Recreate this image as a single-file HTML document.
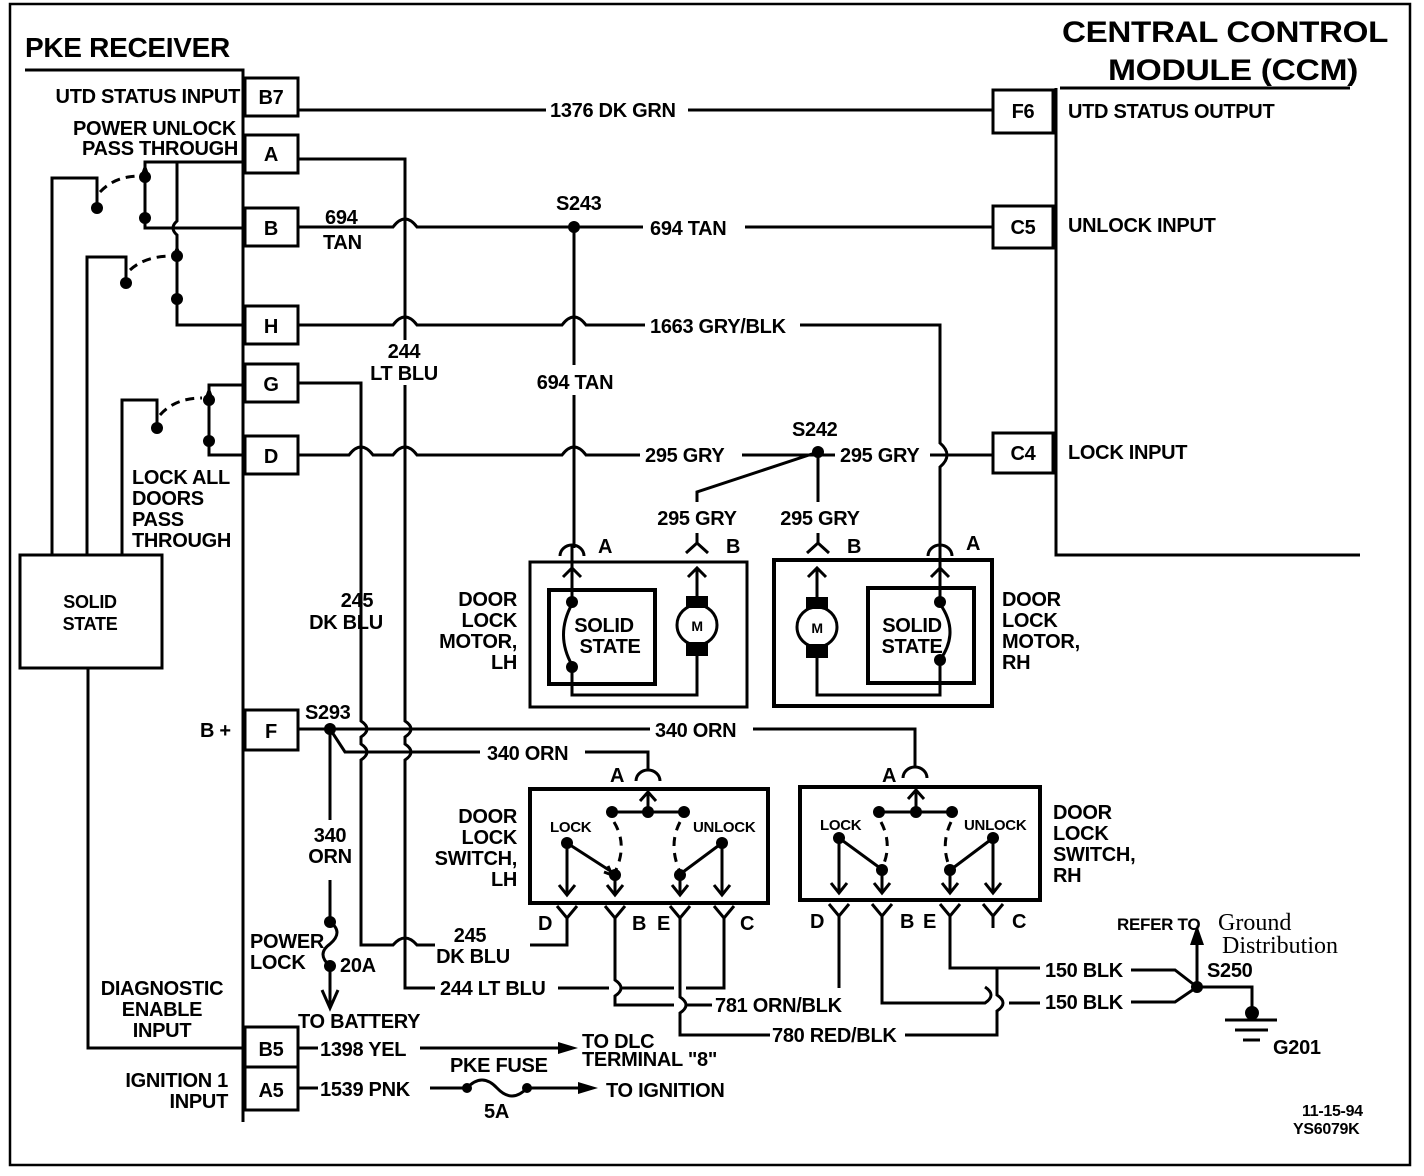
<!DOCTYPE html>
<html><head><meta charset="utf-8"><style>
html,body{margin:0;padding:0;background:#fff;}
svg{display:block}
text{font-family:"Liberation Sans",sans-serif;font-weight:bold;fill:#000;letter-spacing:-0.3px}
</style></head><body>
<svg width="1424" height="1176" viewBox="0 0 1424 1176" xmlns="http://www.w3.org/2000/svg">
<g fill="none" stroke="#000" stroke-width="3">
<path d="M10 4 H1410 V1165 H10 Z" stroke-width="2.5"/>
<path d="M25 70 H243 V1122" />
<path d="M1060 88 H1350" />
<path d="M1056 88 V555 H1360" />
<rect x="245" y="78" width="53" height="38"/>
<rect x="245" y="135" width="53" height="38"/>
<rect x="245" y="208" width="53" height="38"/>
<rect x="245" y="306" width="53" height="38"/>
<rect x="245" y="364" width="53" height="38"/>
<rect x="245" y="436" width="53" height="38"/>
<rect x="245" y="710" width="53" height="40"/>
<rect x="245" y="1027" width="53" height="40"/>
<rect x="245" y="1067" width="53" height="43"/>
<rect x="993" y="90" width="60" height="43"/>
<rect x="993" y="206" width="60" height="42"/>
<rect x="993" y="433" width="60" height="40"/>
<path d="M243 162 H145 V228 H243"/>
<path d="M177 162 V221 q-8 7 0 14 V325 H243"/>
<path d="M52 555 V178 H97 V205"/>
<path d="M87 555 V257 H126 V280"/>
<path d="M122 555 V400 H157 V425"/>
<path d="M243 385 H209 V455 H243"/>
<path d="M100 192 Q115 176 140 176" stroke-dasharray="9 6"/>
<path d="M130 270 Q145 256 172 256" stroke-dasharray="9 6"/>
<path d="M160 415 Q175 398 202 398" stroke-dasharray="9 6"/>
<rect x="20" y="555" width="142" height="113"/>
<path d="M88 668 V1048 H245"/>
<path d="M298 110 H546 M688 110 H993"/>
<path d="M298 159 H405 V340 M405 385 V721 q12 8 0 16 V744 q12 8 0 16 V988 H435 M558 988 H609 M621 988 H674 M686 988 H724 V918"/>
<path d="M298 227 H393 q12 -16 24 0 H643 M745 227 H993"/>
<path d="M574 227 V365 M574 395 V548"/>
<path d="M298 325 H393 q12 -16 24 0 H562 q12 -16 24 0 H645 M800 325 H940 V443 q14 12 0 24 V545"/>
<path d="M298 383 H361 V721 q12 8 0 16 V744 q12 8 0 16 V945 H393 q12 -14 24 0 H435 M530 945 H567 V918"/>
<path d="M298 455 H349 q12 -16 24 0 H393 q12 -16 24 0 H562 q12 -16 24 0 H640 M742 455 H835 M930 455 H993"/>
<path d="M818 452 L697 492 V502 M818 452 V502"/>
<path d="M560 556 a12 11 0 0 1 24 0 M572 545 V590"/>
<path d="M686 553 L697 543 L708 553 M697 533 V543"/>
<path d="M807 553 L818 543 L829 553 M818 533 V543"/>
<path d="M928 556 a12 11 0 0 1 24 0 M940 545 V590"/>
<rect x="530" y="562" width="217" height="145"/>
<rect x="549" y="590" width="106" height="94" stroke-width="4"/>
<path d="M572 568 V602 M563 577 L572 568 L581 577"/>
<path d="M572 667 V695 H697 V655"/>
<path d="M572 604 Q555 635 572 665"/>
<path d="M697 568 V598 M688 577 L697 568 L706 577"/>
<circle cx="697" cy="625" r="20" fill="#fff"/>
<rect x="774" y="560" width="218" height="146" stroke-width="4"/>
<rect x="868" y="588" width="106" height="95" stroke-width="4"/>
<path d="M940 568 V602 M931 577 L940 568 L949 577"/>
<path d="M940 660 V695 H817 V655"/>
<path d="M940 604 Q960 632 940 660"/>
<path d="M817 568 V600 M808 577 L817 568 L826 577"/>
<circle cx="817" cy="627" r="20" fill="#fff"/>
<path d="M298 729 H650 M753 729 H915 V768"/>
<path d="M330 729 L345 752 H480 M585 752 H648 V770"/>
<path d="M636 781 a12 11 0 0 1 24 0 M903 778 a12 11 0 0 1 24 0"/>
<path d="M330 729 V820 M330 880 V920"/>
<path d="M330 922 q14 10 0 22 q-14 10 0 22"/>
<path d="M330 966 V1005 M322 990 L330 1008 L338 990"/>
<rect x="530" y="789" width="238" height="114" stroke-width="4"/>
<path d="M648 812 V792 M640 801 L648 792 L656 801 M612 812 H684"/>
<path d="M567 843 V895 M559 885 L567 895 L575 885 M567 843 L612 872 M604 872 L612 875 L608 866"/>
<path d="M615 875 V895 M607 885 L615 895 L623 885 M680 875 V895 M672 885 L680 895 L688 885"/>
<path d="M722 843 V895 M714 885 L722 895 L730 885 M722 843 L683 872"/>
<path d="M614 822 Q628 845 615 872 M680 822 Q668 845 680 872" stroke-dasharray="9 7"/>
<path d="M557 906 L567 918 L577 906 M605 906 L615 918 L625 906 M670 906 L680 918 L690 906 M714 906 L724 918 L734 906"/>
<path d="M615 918 V980 q12 8 0 16 V1005 H674 M686 1005 H712"/>
<path d="M680 918 V997 q12 8 0 16 V1035 H770 M905 1035 H997 V1011 q12 -8 0 -16 V968"/>
<rect x="800" y="787" width="240" height="113" stroke-width="4"/>
<path d="M916 812 V790 M908 799 L916 790 L924 799 M879 812 H952"/>
<path d="M839 838 V893 M831 883 L839 893 L847 883 M839 838 L880 868"/>
<path d="M882 870 V893 M874 883 L882 893 L890 883 M950 870 V893 M942 883 L950 893 L958 883"/>
<path d="M993 838 V893 M985 883 L993 893 L1001 883 M993 838 L953 868"/>
<path d="M881 822 Q893 845 882 868 M951 822 Q940 845 950 868" stroke-dasharray="9 7"/>
<path d="M829 904 L839 916 L849 904 M872 904 L882 916 L892 904 M940 904 L950 916 L960 904 M983 904 L993 916 L1003 904"/>
<path d="M839 916 V988 M882 916 V1003 H985 q12 -8 0 -16 M1009 1003 H1040 M950 916 V968 H1040 M993 916 V928"/>
<path d="M1131 970 H1175 L1197 987 M1131 1002 H1175 L1197 987 M1197 987 V928 M1197 987 H1252 V1012"/>
<path d="M1225 1020 H1277 M1235 1030 H1268 M1243 1040 H1260"/>
<path d="M298 1048 H318 M420 1048 H560 M298 1088 H318 M430 1088 H467 M527 1088 H580"/>
<path d="M467 1088 q15 -16 30 0 q15 16 30 0"/>
</g>
<g fill="#000">
<circle cx="574" cy="227" r="6"/><circle cx="818" cy="452" r="6"/><circle cx="330" cy="729" r="6"/>
<circle cx="97" cy="208" r="6"/><circle cx="145" cy="177" r="6"/><circle cx="145" cy="218" r="6"/>
<circle cx="126" cy="283" r="6"/><circle cx="177" cy="256" r="6"/><circle cx="177" cy="299" r="6"/>
<circle cx="157" cy="428" r="6"/><circle cx="209" cy="400" r="6"/><circle cx="209" cy="441" r="6"/>
<circle cx="572" cy="602" r="6"/><circle cx="572" cy="667" r="6"/><circle cx="940" cy="602" r="6"/><circle cx="940" cy="660" r="6"/>
<rect x="686" y="596" width="22" height="12"/><rect x="686" y="642" width="22" height="14"/>
<rect x="806" y="597" width="22" height="12"/><rect x="806" y="644" width="22" height="14"/>
<circle cx="330" cy="922" r="6"/><circle cx="330" cy="966" r="6"/><circle cx="467" cy="1088" r="5"/><circle cx="527" cy="1088" r="5"/>
<circle cx="612" cy="812" r="6"/><circle cx="648" cy="812" r="6"/><circle cx="684" cy="812" r="6"/>
<circle cx="567" cy="843" r="6"/><circle cx="722" cy="843" r="6"/><circle cx="615" cy="875" r="6"/><circle cx="680" cy="875" r="6"/>
<circle cx="879" cy="812" r="6"/><circle cx="916" cy="812" r="6"/><circle cx="952" cy="812" r="6"/>
<circle cx="839" cy="838" r="6"/><circle cx="993" cy="838" r="6"/><circle cx="882" cy="870" r="6"/><circle cx="950" cy="870" r="6"/>
<circle cx="1197" cy="987" r="6"/><circle cx="1252" cy="1013" r="7"/>
<path d="M1197 925 L1190 945 L1204 945Z"/>
<path d="M558 1042 L578 1048 L558 1054Z"/><path d="M578 1082 L598 1088 L578 1094Z"/>
<path d="M140 177 l5 -14 l5 14Z M172 258 l5 -14 l5 14Z M204 400 l5 -14 l5 14Z"/>
</g>
<text x="25" y="57" font-size="28">PKE RECEIVER</text>
<text x="1062" y="42" font-size="30" textLength="326" lengthAdjust="spacingAndGlyphs">CENTRAL CONTROL</text>
<text x="1108" y="80" font-size="30" textLength="250" lengthAdjust="spacingAndGlyphs">MODULE (CCM)</text>
<g font-size="20">
<text x="240" y="103" text-anchor="end">UTD STATUS INPUT</text>
<text x="236" y="135" text-anchor="end">POWER UNLOCK</text>
<text x="238" y="155" text-anchor="end">PASS THROUGH</text>
<text x="132" y="484">LOCK ALL</text><text x="132" y="505">DOORS</text><text x="132" y="526">PASS</text><text x="132" y="547">THROUGH</text>
<text x="90" y="608" text-anchor="middle" font-size="18">SOLID</text><text x="90" y="630" text-anchor="middle" font-size="18">STATE</text>
<text x="200" y="737">B +</text>
<text x="162" y="995" text-anchor="middle">DIAGNOSTIC</text><text x="162" y="1016" text-anchor="middle">ENABLE</text><text x="162" y="1037" text-anchor="middle">INPUT</text>
<text x="228" y="1087" text-anchor="end">IGNITION 1</text><text x="228" y="1108" text-anchor="end">INPUT</text>
<g text-anchor="middle">
<text x="271" y="104">B7</text><text x="271" y="161">A</text><text x="271" y="235">B</text><text x="271" y="333">H</text>
<text x="271" y="391">G</text><text x="271" y="463">D</text><text x="271" y="738">F</text><text x="271" y="1056">B5</text><text x="271" y="1097">A5</text>
<text x="1023" y="118">F6</text><text x="1023" y="234">C5</text><text x="1023" y="460">C4</text>
</g>
<text x="1068" y="118">UTD STATUS OUTPUT</text>
<text x="1068" y="232">UNLOCK INPUT</text>
<text x="1068" y="459">LOCK INPUT</text>
<text x="550" y="117">1376 DK GRN</text>
<text x="325" y="224">694</text><text x="323" y="249">TAN</text>
<text x="556" y="210">S243</text>
<text x="650" y="235">694 TAN</text>
<text x="650" y="333">1663 GRY/BLK</text>
<text x="404" y="358" text-anchor="middle">244</text><text x="404" y="380" text-anchor="middle">LT BLU</text>
<text x="575" y="389" text-anchor="middle">694 TAN</text>
<text x="645" y="462">295 GRY</text>
<text x="792" y="436">S242</text>
<text x="840" y="462">295 GRY</text>
<text x="697" y="525" text-anchor="middle">295 GRY</text>
<text x="820" y="525" text-anchor="middle">295 GRY</text>
<text x="598" y="553">A</text><text x="726" y="553">B</text><text x="847" y="553">B</text><text x="966" y="550">A</text>
<text x="517" y="606" text-anchor="end">DOOR</text><text x="517" y="627" text-anchor="end">LOCK</text><text x="517" y="648" text-anchor="end">MOTOR,</text><text x="517" y="669" text-anchor="end">LH</text>
<text x="1002" y="606">DOOR</text><text x="1002" y="627">LOCK</text><text x="1002" y="648">MOTOR,</text><text x="1002" y="669">RH</text>
<text x="604" y="632" text-anchor="middle">SOLID</text><text x="610" y="653" text-anchor="middle">STATE</text>
<text x="912" y="632" text-anchor="middle">SOLID</text><text x="912" y="653" text-anchor="middle">STATE</text>
<text x="697" y="631" text-anchor="middle" font-size="14">M</text><text x="817" y="633" text-anchor="middle" font-size="14">M</text>
<text x="357" y="607" text-anchor="middle">245</text><text x="346" y="629" text-anchor="middle">DK BLU</text>
<text x="305" y="719">S293</text>
<text x="655" y="737">340 ORN</text>
<text x="487" y="760">340 ORN</text>
<text x="610" y="782">A</text><text x="882" y="782">A</text>
<text x="517" y="823" text-anchor="end">DOOR</text><text x="517" y="844" text-anchor="end">LOCK</text><text x="517" y="865" text-anchor="end">SWITCH,</text><text x="517" y="886" text-anchor="end">LH</text>
<text x="1053" y="819">DOOR</text><text x="1053" y="840">LOCK</text><text x="1053" y="861">SWITCH,</text><text x="1053" y="882">RH</text>
<text x="550" y="832" font-size="15">LOCK</text><text x="693" y="832" font-size="15">UNLOCK</text>
<text x="820" y="830" font-size="15">LOCK</text><text x="964" y="830" font-size="15">UNLOCK</text>
<text x="538" y="930">D</text><text x="632" y="930">B</text><text x="657" y="930">E</text><text x="740" y="930">C</text>
<text x="810" y="928">D</text><text x="900" y="928">B</text><text x="923" y="928">E</text><text x="1012" y="928">C</text>
<text x="330" y="842" text-anchor="middle">340</text><text x="330" y="863" text-anchor="middle">ORN</text>
<text x="250" y="948">POWER</text><text x="250" y="969">LOCK</text><text x="340" y="972">20A</text>
<text x="298" y="1028">TO BATTERY</text>
<text x="470" y="942" text-anchor="middle">245</text><text x="473" y="963" text-anchor="middle">DK BLU</text>
<text x="440" y="995">244 LT BLU</text>
<text x="715" y="1012">781 ORN/BLK</text>
<text x="772" y="1042">780 RED/BLK</text>
<text x="1045" y="977">150 BLK</text><text x="1045" y="1009">150 BLK</text>
<text x="1117" y="930" font-size="17">REFER TO</text>
<text x="1218" y="930" font-size="24" style="font-family:'Liberation Serif',serif;font-weight:normal;letter-spacing:0">Ground</text>
<text x="1222" y="953" font-size="24" style="font-family:'Liberation Serif',serif;font-weight:normal;letter-spacing:0">Distribution</text>
<text x="1207" y="977">S250</text>
<text x="1273" y="1054">G201</text>
<text x="1302" y="1116" font-size="16">11-15-94</text><text x="1293" y="1134" font-size="16">YS6079K</text>
<text x="320" y="1056">1398 YEL</text>
<text x="582" y="1048">TO DLC</text><text x="582" y="1066">TERMINAL "8"</text>
<text x="450" y="1072">PKE FUSE</text>
<text x="320" y="1096">1539 PNK</text>
<text x="484" y="1118">5A</text>
<text x="606" y="1097">TO IGNITION</text>
</g>
</svg>
</body></html>
